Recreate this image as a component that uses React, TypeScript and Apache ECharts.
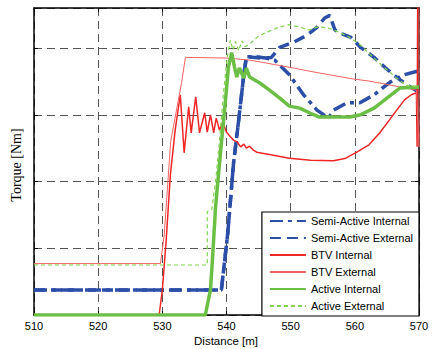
import React, { useEffect, useRef } from "react";
import * as echarts from "echarts";

const xTicks = { min: 510, max: 570, interval: 10 };
const yTicks = { min: 0, max: 460, interval: 100 };

const seriesNames = [
  "Semi-Active Internal",
  "Semi-Active External",
  "BTV Internal",
  "BTV External",
  "Active Internal",
  "Active External",
];

const semiActiveInternal = [
  [510, 37.5], [539.2, 37.5], [540.2, 123], [541.1, 228], [541.9, 292], [542.7, 360], [543.1, 387],
  [544.5, 387], [546.1, 385], [547.5, 382], [549.8, 360], [552.0, 330], [554.1, 307], [555.9, 295],
  [556.7, 307], [558.8, 318], [560.8, 318], [563.0, 330], [565.5, 349], [567.7, 360], [570, 366],
];

const semiActiveExternal = [
  [510, 37.5], [539.2, 37.5], [540.2, 123], [541.1, 228], [541.9, 292], [542.7, 360], [543.1, 387],
  [545.3, 385], [547.0, 386], [548.3, 401], [550.5, 409], [552.5, 419], [554.1, 431], [555.3, 445],
  [556.1, 449], [556.9, 427], [558.1, 421], [559.4, 416], [560.9, 401], [563.0, 386], [564.8, 370],
  [566.7, 355], [568.4, 343], [570, 334],
];

const btvInternal = [
  [510, 0], [529.5, 0], [530.0, 37], [530.6, 112], [531.25, 210], [532.0, 277], [532.8, 330],
  [533.4, 243], [534.1, 312], [534.5, 273], [535.2, 327], [535.8, 273], [536.6, 303], [537.0, 274],
  [537.5, 300], [538.0, 273], [538.4, 295], [538.9, 277], [539.4, 289], [540.0, 274], [540.6, 267],
  [541.1, 262], [541.7, 259], [542.2, 252], [542.7, 256], [543.1, 250], [543.6, 253], [544.2, 247],
  [544.7, 244], [546.9, 240], [549.8, 235], [553.1, 232], [556.7, 231], [558.6, 235], [560.3, 244],
  [562.2, 255], [563.9, 273], [565.6, 295], [567.7, 322], [568.8, 330], [569.6, 333], [569.7, 252],
  [569.8, 480],
];

const btvExternal = [
  [510, 77], [529.7, 77], [530.3, 120], [530.8, 190], [531.3, 260], [533.0, 348], [533.6, 386],
  [540, 385], [543.6, 382], [550.5, 370], [552.8, 365.5], [559.8, 353.5], [562.2, 350.6],
  [569.6, 337], [570, 252], [570, 480],
];

const activeInternal = [
  [510, 0], [536.7, 0], [537.5, 37.5], [537.8, 82], [538.3, 162], [539.1, 247], [539.7, 307],
  [540.3, 371.5], [540.8, 393], [541.25, 371.5], [541.6, 356.5], [542.0, 370], [542.7, 355],
  [543.1, 370], [543.6, 356.5], [545.2, 347.6], [546.7, 337], [548.3, 325], [549.8, 313],
  [551.4, 310], [553.0, 302.6], [554.5, 296.6], [556.7, 296.6], [559.2, 296.6], [560.8, 299.6],
  [563.0, 310], [565.0, 325], [567.0, 340], [570, 341.6],
];

const activeExternal = [
  [510, 74.9], [537.0, 74.9], [537.0, 155], [537.7, 158], [538.3, 200], [538.9, 260], [539.5, 330],
  [540.1, 385], [540.6, 412], [541.0, 397], [541.4, 410], [541.9, 396], [542.4, 411], [542.9, 402],
  [543.6, 406], [545.0, 418], [546.6, 425], [548.1, 431], [549.7, 435], [551.2, 432], [552.8, 427],
  [554.4, 432], [555.9, 430], [557.5, 424], [559.1, 416.5], [560.6, 407], [562.2, 392],
  [564.2, 374], [566.4, 356], [568.0, 344], [570, 341.6],
];

const seriesData = [
  semiActiveInternal,
  semiActiveExternal,
  btvInternal,
  btvExternal,
  activeInternal,
  activeExternal,
];

const seriesStyles = [
  { color: "#2b4ea6", width: 3.5, type: [13, 5, 4, 5] as any },
  { color: "#2b4ea6", width: 3.5, type: [11, 6] as any },
  { color: "#ee2626", width: 1.5, type: "solid" as any },
  { color: "#f26262", width: 1, type: "solid" as any },
  { color: "#6cbf45", width: 3.5, type: "solid" as any },
  { color: "#7fd34c", width: 1.2, type: [4, 3] as any },
];

const sans = "'Liberation Sans', Arial, sans-serif";
const serif = "'Liberation Serif', 'Times New Roman', serif";

export default function App() {
  const ref = useRef<HTMLDivElement>(null);
  useEffect(() => {
    if (!ref.current) return;
    const chart = echarts.init(ref.current, null, { renderer: "svg" });
    const gridLine = { show: true, lineStyle: { color: "#555", width: 1, type: [8, 5] as any } };
    const frameAxis = (pos: string, isX: boolean) => ({
      type: "value",
      min: isX ? xTicks.min : yTicks.min,
      max: isX ? xTicks.max : yTicks.max,
      interval: isX ? xTicks.interval : yTicks.interval,
      position: pos,
      axisLine: { show: true, onZero: false, lineStyle: { color: "#000", width: 1.5 } },
      axisTick: { show: true, inside: true, length: 4, lineStyle: { color: "#000" } },
      axisLabel: { show: false },
      splitLine: { show: false },
    });
    const option: any = {
      animation: false,
      backgroundColor: "#fff",
      grid: { left: 34, right: 13, top: 8, bottom: 34, containLabel: false },
      xAxis: [
        {
          ...frameAxis("bottom", true),
          axisLabel: { show: true, color: "#000", fontSize: 11, fontFamily: sans, margin: 5 },
          splitLine: gridLine,
        },
        frameAxis("top", true),
      ],
      yAxis: [
        { ...frameAxis("left", false), splitLine: gridLine },
        frameAxis("right", false),
      ],
      legend: {
        orient: "vertical",
        right: 13,
        bottom: 33,
        itemWidth: 36,
        itemHeight: 14,
        itemGap: 3,
        padding: [2, 6, 3, 7],
        backgroundColor: "#fff",
        borderColor: "#000",
        borderWidth: 1.2,
        borderRadius: 0,
        itemStyle: { opacity: 0 },
        textStyle: { color: "#000", fontSize: 11, fontFamily: sans, lineHeight: 14 },
        data: seriesNames,
      },
      graphic: [
        {
          type: "text",
          x: 16,
          y: 165,
          rotation: Math.PI / 2,
          style: {
            text: "Torque [Nm]",
            fontSize: 14,
            fontFamily: serif,
            fill: "#000",
            textAlign: "center",
            textVerticalAlign: "middle",
          },
        },
        {
          type: "text",
          x: 226,
          y: 341,
          style: {
            text: "Distance [m]",
            fontSize: 11.5,
            fontFamily: sans,
            fill: "#000",
            textAlign: "center",
            textVerticalAlign: "middle",
          },
        },
      ],
      series: seriesNames.map((name, i) => ({
        name,
        type: "line",
        data: seriesData[i],
        xAxisIndex: 0,
        yAxisIndex: 0,
        symbol: "none",
        showSymbol: false,
        clip: true,
        color: seriesStyles[i].color,
        lineStyle: {
          color: seriesStyles[i].color,
          width: seriesStyles[i].width,
          type: seriesStyles[i].type,
        },
        z: 2 + i,
      })),
    };
    chart.setOption(option);
    return () => chart.dispose();
  }, []);
  return (
    <div
      ref={ref}
      style={{ position: "fixed", left: 0, top: 0, width: 432, height: 349 }}
    />
  );
}
